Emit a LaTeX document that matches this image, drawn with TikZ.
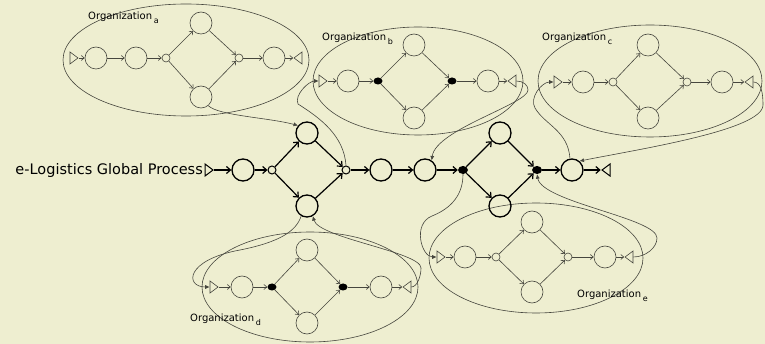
\documentclass[tikz,border=0pt]{standalone}
\usepackage{fontspec}
\setmainfont{DejaVu Sans}
\usetikzlibrary{arrows.meta,shapes.geometric}

\definecolor{paper}{RGB}{238,238,208}
\definecolor{ink}{RGB}{70,70,62}

\begin{document}
\begin{tikzpicture}[
  x=1pt, y=-1pt,
  act/.style={circle, draw=ink, line width=0.6pt, minimum size=22pt, inner sep=0pt},
  gate/.style={circle, draw=ink, line width=0.6pt, minimum size=8pt, inner sep=0pt},
  dot/.style={ellipse, fill=black, minimum width=9pt, minimum height=7pt, inner sep=0pt},
  begintri/.style={isosceles triangle, isosceles triangle stretches, draw=ink, line width=0.6pt,
    minimum width=12pt, minimum height=8pt, inner sep=0pt},
  endtri/.style={begintri, shape border rotate=180},
  orgbox/.style={ellipse, draw=ink, line width=0.6pt, inner sep=0pt},
  flow/.style={-{Straight Barb[length=3pt,width=5pt]}, draw=ink, line width=0.6pt},
  glob/.style={draw=black, line width=1.3pt},
  gflow/.style={-{Straight Barb[length=4pt,width=7pt]}, draw=black, line width=1.2pt},
  link/.style={-{Latex[length=4.5pt,width=4pt]}, draw=ink, line width=0.6pt},
  orgname/.style={anchor=base west, inner sep=0pt, font=\fontsize{10}{12}\selectfont}
]
  \fill[paper] (0,0) rectangle (765,344);
  \useasboundingbox (0,0) rectangle (765,344);

  % organisation a
  \node[orgbox, minimum width=246pt, minimum height=112pt] (orga) at (186,60) {};
  \node[orgname] (la) at (88,20) {Organization\,\raisebox{-4pt}{\footnotesize a}};
  \node[begintri] (as) at (73,58) {};
  \node[act] (a1) at (96,58) {};
  \node[act] (a2) at (136,58) {};
  \node[gate] (ag1) at (166,58) {};
  \node[act] (at) at (201,23) {};
  \node[act] (ab) at (201,97) {};
  \node[gate] (ag2) at (239,58) {};
  \node[act] (a3) at (274,58) {};
  \node[endtri] (ae) at (299,58) {};
  \draw[flow] (as) -- (a1);
  \draw[flow] (a1) -- (a2);
  \draw[flow] (a2) -- (ag1);
  \draw[flow] (ag1) -- (at);
  \draw[flow] (ag1) -- (ab);
  \draw[flow] (at) -- (ag2);
  \draw[flow] (ab) -- (ag2);
  \draw[flow] (ag2) -- (a3);
  \draw[flow] (a3) -- (ae);

  % organisation b
  \node[orgbox, minimum width=210pt, minimum height=108pt] (orgb) at (418,81) {};
  \node[orgname] (lb) at (322,41) {Organization\,\raisebox{-4pt}{\footnotesize b}};
  \node[begintri] (bs) at (322,81) {};
  \node[act] (b1) at (348,81) {};
  \node[dot] (bg1) at (378,81) {};
  \node[act] (bt) at (414,45) {};
  \node[act] (bb) at (414,118) {};
  \node[dot] (bg2) at (452,81) {};
  \node[act] (b2) at (488,81) {};
  \node[endtri] (be) at (513,81) {};
  \draw[flow] (bs) -- (b1);
  \draw[flow] (b1) -- (bg1);
  \draw[flow] (bg1) -- (bt);
  \draw[flow] (bg1) -- (bb);
  \draw[flow] (bt) -- (bg2);
  \draw[flow] (bb) -- (bg2);
  \draw[flow] (bg2) -- (b2);
  \draw[flow] (b2) -- (be);

  % organisation c
  \node[orgbox, minimum width=224pt, minimum height=112pt] (orgc) at (650,81) {};
  \node[orgname] (lc) at (542,41) {Organization\,\raisebox{-4pt}{\footnotesize c}};
  \node[begintri] (cs) at (557,82) {};
  \node[act] (c1) at (583,82) {};
  \node[gate] (cg1) at (613,82) {};
  \node[act] (ct) at (648,45) {};
  \node[act] (cb) at (648,118) {};
  \node[gate] (cg2) at (687,82) {};
  \node[act] (c2) at (722,82) {};
  \node[endtri] (ce) at (750,82) {};
  \draw[flow] (cs) -- (c1);
  \draw[flow] (c1) -- (cg1);
  \draw[flow] (cg1) -- (ct);
  \draw[flow] (cg1) -- (cb);
  \draw[flow] (ct) -- (cg2);
  \draw[flow] (cb) -- (cg2);
  \draw[flow] (cg2) -- (c2);
  \draw[flow] (c2) -- (ce);

  % organisation d
  \node[orgbox, minimum width=216pt, minimum height=110pt] (orgd) at (310,287) {};
  \node[orgname] (ld) at (190,321) {Organization\,\raisebox{-4pt}{\footnotesize d}};
  \node[begintri] (ds) at (213,287) {};
  \node[act] (d1) at (242,287) {};
  \node[dot] (dg1) at (272,287) {};
  \node[act] (dt) at (307,250) {};
  \node[act] (db) at (307,323) {};
  \node[dot] (dg2) at (343,287) {};
  \node[act] (d2) at (381,287) {};
  \node[endtri] (de) at (408,287) {};
  \draw[flow] (ds) -- (d1);
  \draw[flow] (d1) -- (dg1);
  \draw[flow] (dg1) -- (dt);
  \draw[flow] (dg1) -- (db);
  \draw[flow] (dt) -- (dg2);
  \draw[flow] (db) -- (dg2);
  \draw[flow] (dg2) -- (d2);
  \draw[flow] (d2) -- (de);

  % organisation e
  \node[orgbox, minimum width=214pt, minimum height=110pt] (orge) at (536,258) {};
  \node[orgname] (le) at (577,298) {Organization\,\raisebox{-4pt}{\footnotesize e}};
  \node[begintri] (es) at (440,257) {};
  \node[act] (e1) at (465,257) {};
  \node[gate] (eg1) at (496,257) {};
  \node[act] (et) at (532,222) {};
  \node[act] (eb) at (532,292) {};
  \node[gate] (eg2) at (568,257) {};
  \node[act] (e2) at (605,257) {};
  \node[endtri] (ee) at (630,257) {};
  \draw[flow] (es) -- (e1);
  \draw[flow] (e1) -- (eg1);
  \draw[flow] (eg1) -- (et);
  \draw[flow] (eg1) -- (eb);
  \draw[flow] (et) -- (eg2);
  \draw[flow] (eb) -- (eg2);
  \draw[flow] (eg2) -- (e2);
  \draw[flow] (e2) -- (ee);

  % global process
  \node[anchor=base east, inner sep=0pt, font=\fontsize{14.5}{17}\selectfont] (title) at (203,175) {e-Logistics Global Process};
  \node[begintri, glob, line width=1pt] (ms) at (208,170) {};
  \node[act, glob] (m1) at (243,170) {};
  \node[gate, glob, line width=1pt] (mg1) at (272,170) {};
  \node[act, glob] (mt) at (307,133) {};
  \node[act, glob] (mb) at (307,206) {};
  \node[gate, glob, line width=1pt] (mg2) at (346,170) {};
  \node[act, glob] (m2) at (381,170) {};
  \node[act, glob] (m3) at (425,170) {};
  \node[dot, minimum width=10pt, minimum height=8pt] (mf) at (463,170) {};
  \node[act, glob] (mt2) at (500,133) {};
  \node[act, glob] (mb2) at (500,206) {};
  \node[dot, minimum width=10pt, minimum height=8pt] (mm) at (537,170) {};
  \node[act, glob] (m4) at (572,170) {};
  \node[endtri, glob, line width=1pt] (me) at (607,170) {};
  \draw[gflow] (ms) -- (m1);
  \draw[gflow] (m1) -- (mg1);
  \draw[gflow] (mg1) -- (mt);
  \draw[gflow] (mg1) -- (mb);
  \draw[gflow] (mt) -- (mg2);
  \draw[gflow] (mb) -- (mg2);
  \draw[gflow] (mg2) -- (m2);
  \draw[gflow] (m2) -- (m3);
  \draw[gflow] (m3) -- (mf);
  \draw[gflow] (mf) -- (mt2);
  \draw[gflow] (mf) -- (mb2);
  \draw[gflow] (mt2) -- (mm);
  \draw[gflow] (mb2) -- (mm);
  \draw[gflow] (mm) -- (m4);
  \draw[gflow] (m4) -- (me);

  % links between the global process and the organisations
  \draw[link] (ab.-50) .. controls +(10,10) and +(-30,-8) .. (mt.140);
  \draw[link] (mg2.north) .. controls +(-2,-30) and +(22,14) .. (298,104)
    .. controls +(-4,-9) and +(-10,0) .. (bs.west);
  \draw[link] (be.east) .. controls +(7,0) and +(0,-5) .. (528,90)
    .. controls +(0,14) and +(4,-31) .. (m3.55);
  \draw[link] (m4.100) .. controls +(-2,-28) and +(10,17) .. (535,108)
    .. controls +(-6,-10) and +(-12,0) .. (cs.west);
  \draw[link] (ce.east) .. controls +(8,0) and +(0,-12) .. (763,105)
    .. controls +(0,25) and +(60,-12) .. (m4.50);
  \draw[link] (mb.240) .. controls +(-5,15) and +(40,-8) .. (240,250)
    .. controls +(-55,10) and +(-25,0) .. (ds.west);
  \draw[link] (de.east) .. controls +(6,0) and +(0,8) .. (421,268)
    .. controls +(0,-16) and +(6,22) .. (mb.300);
  \draw[link] (mf.south) .. controls +(0,20) and +(20,-8) .. (432,216)
    .. controls +(-20,8) and +(-15,0) .. (es.west);
  \draw[link] (ee.east) .. controls +(12,0) and +(0,10) .. (657,238)
    .. controls +(0,-20) and +(5,28) .. (mm.south);
\end{tikzpicture}
\end{document}
